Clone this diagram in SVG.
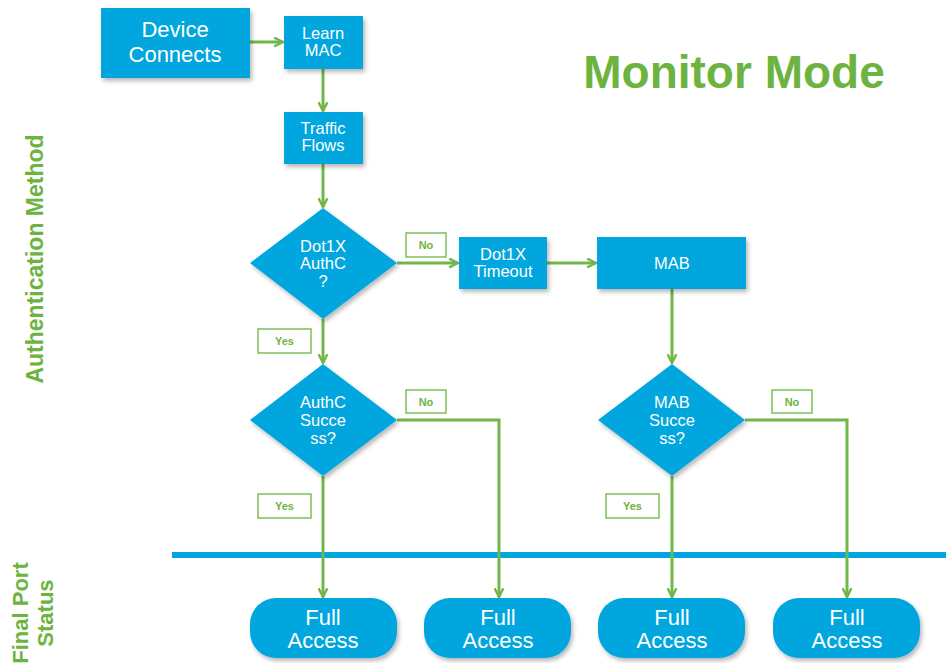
<svg xmlns="http://www.w3.org/2000/svg" width="946" height="663" viewBox="0 0 946 663">
<defs>
<filter id="sh" x="-20%" y="-20%" width="140%" height="150%">
<feDropShadow dx="2" dy="3" stdDeviation="2" flood-color="#000" flood-opacity="0.28"/>
</filter>
<marker id="ah" viewBox="0 0 10 10" refX="9" refY="5" markerWidth="11" markerHeight="11" markerUnits="userSpaceOnUse" orient="auto">
<path d="M1,1 L9,5 L1,9" fill="none" stroke="#72b64b" stroke-width="2.2"/>
</marker>
<style>
.box{fill:#00a6dd;filter:url(#sh)}
.t{fill:#fff;font-family:"Liberation Sans",Arial,sans-serif;text-anchor:middle}
.lbl rect{fill:#fff;stroke:#7dc05a;stroke-width:1.5}
.lbl text{fill:#6db33f;font-family:"Liberation Sans",Arial,sans-serif;font-weight:bold;font-size:11px;text-anchor:middle}
.c{fill:none;stroke:#72b64b;stroke-width:3;marker-end:url(#ah)}
.g{fill:#6db33f;font-family:"Liberation Sans",Arial,sans-serif;font-weight:bold;text-anchor:middle}
</style>
</defs>
<rect width="946" height="663" fill="#fff"/>

<text class="g" x="734" y="88" font-size="46">Monitor Mode</text>
<text class="g" font-size="23" transform="translate(43,259) rotate(-90)">Authentication Method</text>
<text class="g" font-size="22" transform="translate(28,613) rotate(-90)">Final Port</text>
<text class="g" font-size="22" transform="translate(53,613) rotate(-90)">Status</text>

<rect x="172" y="552" width="774" height="6" fill="#00a6dd"/>

<g id="connectors">
<path class="c" d="M250,42 H283"/>
<path class="c" d="M323,69 V111"/>
<path class="c" d="M323,164 V207"/>
<path class="c" d="M397,263 H458"/>
<path class="c" d="M547,263 H596"/>
<path class="c" d="M323,319 V363"/>
<path class="c" d="M672,289 V363"/>
<path class="c" d="M323,476 V597"/>
<path class="c" d="M397,420 H499 V597"/>
<path class="c" d="M672,476 V597"/>
<path class="c" d="M745,420 H847 V597"/>
</g>

<g id="device-connects">
<rect class="box" x="101" y="8" width="149" height="70"/>
<text class="t" font-size="22" x="175" y="37">Device</text>
<text class="t" font-size="22" x="175" y="62">Connects</text>
</g>
<g id="learn-mac">
<rect class="box" x="284" y="16" width="79" height="53"/>
<text class="t" font-size="16.5" x="323" y="39">Learn</text>
<text class="t" font-size="16.5" x="323" y="56">MAC</text>
</g>
<g id="traffic-flows">
<rect class="box" x="284" y="112" width="79" height="52"/>
<text class="t" font-size="16.5" x="323" y="134">Traffic</text>
<text class="t" font-size="16.5" x="323" y="151">Flows</text>
</g>
<g id="dot1x-authc">
<polygon class="box" points="323,208 397,263 323,319 250,263"/>
<text class="t" font-size="16.5" x="323" y="252">Dot1X</text>
<text class="t" font-size="16.5" x="323" y="269">AuthC</text>
<text class="t" font-size="16.5" x="323" y="287">?</text>
</g>
<g id="dot1x-timeout">
<rect class="box" x="459" y="237" width="88" height="52"/>
<text class="t" font-size="16.5" x="503" y="260">Dot1X</text>
<text class="t" font-size="16.5" x="503" y="277">Timeout</text>
</g>
<g id="mab">
<rect class="box" x="597" y="237" width="149" height="52"/>
<text class="t" font-size="16.5" x="672" y="269">MAB</text>
</g>
<g id="authc-success">
<polygon class="box" points="323,364 397,420 323,476 250,420"/>
<text class="t" font-size="16.5" x="323" y="408">AuthC</text>
<text class="t" font-size="16.5" x="323" y="426">Succe</text>
<text class="t" font-size="16.5" x="323" y="444">ss?</text>
</g>
<g id="mab-success">
<polygon class="box" points="672,364 745,420 672,476 598,420"/>
<text class="t" font-size="16.5" x="672" y="408">MAB</text>
<text class="t" font-size="16.5" x="672" y="426">Succe</text>
<text class="t" font-size="16.5" x="672" y="444">ss?</text>
</g>

<g id="label-no-1" class="lbl"><rect x="406" y="233" width="40" height="24"/><text x="426" y="249">No</text></g>
<g id="label-yes-1" class="lbl"><rect x="258" y="329" width="53" height="24"/><text x="284.5" y="345">Yes</text></g>
<g id="label-no-2" class="lbl"><rect x="406" y="390" width="40" height="23"/><text x="426" y="406">No</text></g>
<g id="label-yes-2" class="lbl"><rect x="258" y="494" width="53" height="24"/><text x="284.5" y="510">Yes</text></g>
<g id="label-no-3" class="lbl"><rect x="772" y="390" width="40" height="23"/><text x="792" y="406">No</text></g>
<g id="label-yes-3" class="lbl"><rect x="606" y="494" width="53" height="24"/><text x="632.5" y="510">Yes</text></g>

<g id="full-access-1">
<rect class="box" x="250" y="598" width="147" height="60" rx="26" ry="26"/>
<text class="t" font-size="22" x="323" y="625">Full</text>
<text class="t" font-size="22" x="323" y="648">Access</text>
</g>
<g id="full-access-2">
<rect class="box" x="424" y="598" width="147" height="60" rx="26" ry="26"/>
<text class="t" font-size="22" x="498" y="625">Full</text>
<text class="t" font-size="22" x="498" y="648">Access</text>
</g>
<g id="full-access-3">
<rect class="box" x="598" y="598" width="147" height="60" rx="26" ry="26"/>
<text class="t" font-size="22" x="672" y="625">Full</text>
<text class="t" font-size="22" x="672" y="648">Access</text>
</g>
<g id="full-access-4">
<rect class="box" x="773" y="598" width="147" height="60" rx="26" ry="26"/>
<text class="t" font-size="22" x="847" y="625">Full</text>
<text class="t" font-size="22" x="847" y="648">Access</text>
</g>
</svg>
